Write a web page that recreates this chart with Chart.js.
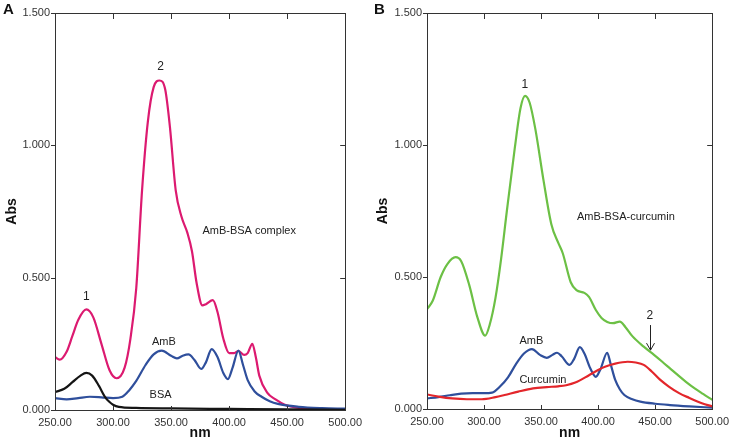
<!DOCTYPE html>
<html>
<head>
<meta charset="utf-8">
<script src="https://cdn.jsdelivr.net/npm/chart.js@4.4.0/dist/chart.umd.min.js"></script>
<style>
body { margin: 0; background: #fff; }
#wrap { position: relative; width: 735px; height: 439px; }
canvas { position: absolute; top: 0; }
</style>
</head>
<body>
<div id="wrap">
    <canvas id="chartA" width="368" height="439" style="left:0"></canvas>
    <canvas id="chartB" width="367" height="439" style="left:368px"></canvas>
</div>
<script>
// x / y tick values
const nmTicks = [250, 300, 350, 400, 450, 500];
const absTicks = [0, 0.5, 1.0, 1.5];

// Panel A: AmB-BSA complex (pink)
const complexA_nm  = [250, 254, 260, 265, 270, 277, 283, 290, 297, 303, 310, 315, 320, 325, 330, 335, 340, 345, 349, 354, 359, 364, 368, 372, 377, 380, 386, 390, 395, 400, 404, 408, 413, 416, 420, 423, 426, 433, 440, 448, 460, 480, 500];
const complexA_abs = [0.20, 0.19, 0.22, 0.28, 0.34, 0.38, 0.35, 0.25, 0.15, 0.12, 0.16, 0.27, 0.46, 0.83, 1.09, 1.22, 1.245, 1.21, 1.07, 0.83, 0.73, 0.67, 0.60, 0.48, 0.395, 0.40, 0.415, 0.37, 0.27, 0.215, 0.215, 0.223, 0.208, 0.215, 0.25, 0.20, 0.13, 0.065, 0.04, 0.02, 0.008, 0.003, 0.002];

// Panel A: AmB (blue)
const ambA_nm  = [250, 260, 270, 280, 290, 300, 308, 314, 320, 328, 335, 342, 350, 355, 360, 365, 370, 376, 380, 385, 390, 395, 399, 403, 408, 412, 416, 422, 428, 435, 442, 460, 480, 500];
const ambA_abs = [0.045, 0.04, 0.045, 0.05, 0.048, 0.045, 0.05, 0.075, 0.11, 0.17, 0.21, 0.224, 0.205, 0.195, 0.205, 0.21, 0.19, 0.155, 0.18, 0.23, 0.20, 0.14, 0.117, 0.16, 0.224, 0.17, 0.113, 0.07, 0.05, 0.033, 0.023, 0.012, 0.007, 0.005];

// Panel A: BSA (black)
const bsaA_nm  = [250, 258, 265, 272, 277, 282, 288, 293, 297, 300, 305, 320, 350, 400, 450, 500];
const bsaA_abs = [0.068, 0.08, 0.105, 0.13, 0.14, 0.13, 0.09, 0.05, 0.03, 0.02, 0.012, 0.008, 0.006, 0.004, 0.002, 0.001];

// Panel B: AmB-BSA-curcumin (green)
const triB_nm  = [250, 255, 262, 268, 275, 280, 287, 294, 301, 305, 310, 315, 320, 327, 332, 336, 340, 345, 352, 359, 365, 369, 376, 381, 388, 392, 398, 403, 408, 413, 419, 424, 430, 440, 449, 456, 463, 470, 477, 485, 492, 500];
const triB_abs = [0.378, 0.41, 0.50, 0.55, 0.575, 0.56, 0.47, 0.35, 0.278, 0.32, 0.42, 0.57, 0.75, 0.99, 1.14, 1.186, 1.16, 1.06, 0.87, 0.70, 0.63, 0.59, 0.48, 0.45, 0.44, 0.425, 0.375, 0.345, 0.33, 0.325, 0.331, 0.31, 0.276, 0.236, 0.205, 0.18, 0.154, 0.128, 0.103, 0.077, 0.057, 0.035];

// Panel B: AmB (blue)
const ambB_nm  = [250, 260, 270, 280, 290, 300, 307, 314, 321, 328, 335, 342, 349, 355, 360, 364, 368, 375, 379, 384, 388, 393, 398, 402, 408, 411, 415, 419, 423, 430, 437, 450, 463, 480, 500];
const ambB_abs = [0.04, 0.045, 0.052, 0.058, 0.06, 0.06, 0.062, 0.085, 0.12, 0.17, 0.21, 0.227, 0.205, 0.194, 0.205, 0.213, 0.20, 0.167, 0.19, 0.234, 0.21, 0.155, 0.122, 0.15, 0.213, 0.17, 0.11, 0.075, 0.053, 0.037, 0.028, 0.02, 0.015, 0.01, 0.005];

// Panel B: Curcumin (red)
const curB_nm  = [250, 260, 272, 285, 298, 310, 318, 330, 343, 355, 365, 372, 380, 392, 400, 406, 415, 426, 433, 440, 447, 454, 462, 471, 480, 491, 500];
const curB_abs = [0.055, 0.047, 0.04, 0.037, 0.037, 0.045, 0.053, 0.066, 0.078, 0.083, 0.086, 0.09, 0.10, 0.128, 0.148, 0.16, 0.172, 0.179, 0.176, 0.167, 0.142, 0.112, 0.085, 0.06, 0.042, 0.022, 0.01];

const FONT = "'Liberation Sans', Arial, sans-serif";

function pts(xs, ys) {
    return xs.map((x, i) => ({ x: x, y: ys[i] }));
}

function curve(xs, ys, color) {
    return {
        data: pts(xs, ys),
        borderColor: color,
        borderWidth: 2.2,
        pointRadius: 0,
        cubicInterpolationMode: 'monotone',
        fill: false
    };
}

// frame, inward/outward ticks, panel letter and annotation texts
const framePlugin = {
    id: 'frame',
    afterDatasetsDraw(chart, args, opts) {
        const { ctx, chartArea: a, scales: { x, y } } = chart;
        ctx.save();
        ctx.strokeStyle = '#333';
        ctx.lineWidth = 1;
        ctx.strokeRect(Math.round(a.left) + 0.5, Math.round(a.top) + 0.5,
            Math.round(a.right - a.left), Math.round(a.bottom - a.top));

        const seg = (x1, y1, x2, y2) => {
            ctx.beginPath(); ctx.moveTo(x1, y1); ctx.lineTo(x2, y2); ctx.stroke();
        };
        absTicks.forEach(v => {
            const py = Math.round(y.getPixelForValue(v)) + 0.5;
            seg(a.left - 4, py, a.left, py);
            if (v > 0 && v < 1.5) seg(a.right - 5, py, a.right, py);
        });
        nmTicks.forEach(v => {
            if (v === 250 || v === 500) return;
            const px = Math.round(x.getPixelForValue(v)) + 0.5;
            seg(px, a.top, px, a.top + 6);
            seg(px, a.bottom, px, a.bottom - 4);
        });

        // panel letter
        ctx.fillStyle = '#111';
        ctx.font = 'bold 15px ' + FONT;
        ctx.textAlign = 'left';
        ctx.textBaseline = 'top';
        ctx.fillText(opts.letter, opts.letterX, 2);

        // annotations
        ctx.textBaseline = 'middle';
        opts.notes.forEach(n => {
            ctx.font = n.size + 'px ' + FONT;
            ctx.textAlign = n.align;
            ctx.fillStyle = '#222';
            ctx.fillText(n.text, x.getPixelForValue(n.nm), y.getPixelForValue(n.abs));
        });

        // arrow
        if (opts.arrow) {
            const ar = opts.arrow;
            const px = Math.round(x.getPixelForValue(ar.nm)) + 0.5;
            const y1 = y.getPixelForValue(ar.from);
            const y2 = y.getPixelForValue(ar.to);
            ctx.strokeStyle = '#222';
            seg(px, y1, px, y2);
            seg(px - 4, y2 - 7, px, y2);
            seg(px + 4, y2 - 7, px, y2);
        }
        ctx.restore();
    }
};

function makeChart(id, datasets, leftWidth, bottomHeight, rightPad, absPad, frameOpts) {
    return new Chart(document.getElementById(id).getContext('2d'), {
        type: 'line',
        data: { datasets: datasets },
        options: {
            responsive: false,
            animation: false,
            layout: { padding: { left: 0, top: 13, right: rightPad, bottom: 0 } },
            plugins: {
                legend: { display: false },
                tooltip: { enabled: false },
                frame: frameOpts
            },
            scales: {
                x: {
                    type: 'linear',
                    min: 250,
                    max: 500,
                    afterBuildTicks: s => { s.ticks = nmTicks.map(v => ({ value: v })); },
                    afterFit: s => { s.height = bottomHeight; },
                    grid: { display: false, drawTicks: false },
                    border: { display: false },
                    ticks: {
                        padding: 6,
                        color: '#333',
                        font: { family: FONT, size: 11 },
                        maxRotation: 0,
                        callback: v => v.toFixed(2)
                    },
                    title: {
                        display: true,
                        text: 'nm',
                        color: '#111',
                        padding: { top: 0, bottom: -2.5 },
                        font: { family: FONT, size: 14, weight: 'bold' }
                    }
                },
                y: {
                    min: 0,
                    max: 1.5,
                    afterBuildTicks: s => { s.ticks = absTicks.map(v => ({ value: v })); },
                    afterFit: s => { s.width = leftWidth; },
                    grid: { display: false, drawTicks: false },
                    border: { display: false },
                    ticks: {
                        padding: 5,
                        color: '#333',
                        font: { family: FONT, size: 11 },
                        callback: v => v.toFixed(3)
                    },
                    title: {
                        display: true,
                        text: 'Abs',
                        color: '#111',
                        padding: { top: absPad, bottom: 0 },
                        font: { family: FONT, size: 14, weight: 'bold' }
                    }
                }
            }
        },
        plugins: [framePlugin]
    });
}

makeChart('chartA', [
    curve(bsaA_nm, bsaA_abs, '#151515'),
    curve(ambA_nm, ambA_abs, '#2f4f9c'),
    curve(complexA_nm, complexA_abs, '#dc1a70')
], 55, 29, 20, 3.5, {
    letter: 'A', letterX: 3,
    notes: [
        { text: '2', nm: 341, abs: 1.296, size: 12, align: 'center' },
        { text: '1', nm: 277, abs: 0.427, size: 12, align: 'center' },
        { text: 'AmB-BSA complex', nm: 377, abs: 0.676, size: 11, align: 'left' },
        { text: 'AmB', nm: 333.5, abs: 0.258, size: 11, align: 'left' },
        { text: 'BSA', nm: 331.5, abs: 0.057, size: 11, align: 'left' }
    ]
});

makeChart('chartB', [
    curve(curB_nm, curB_abs, '#e3262b'),
    curve(ambB_nm, ambB_abs, '#2f4f9c'),
    curve(triB_nm, triB_abs, '#6cc045')
], 59, 30, 15, 6.5, {
    letter: 'B', letterX: 6,
    notes: [
        { text: '1', nm: 335.7, abs: 1.227, size: 12, align: 'center' },
        { text: 'AmB-BSA-curcumin', nm: 381.5, abs: 0.727, size: 11, align: 'left' },
        { text: 'AmB', nm: 331, abs: 0.258, size: 11, align: 'left' },
        { text: 'Curcumin', nm: 331, abs: 0.11, size: 11, align: 'left' },
        { text: '2', nm: 445.4, abs: 0.352, size: 12, align: 'center' }
    ],
    arrow: { nm: 445.4, from: 0.318, to: 0.223 }
});
</script>
</body>
</html>
